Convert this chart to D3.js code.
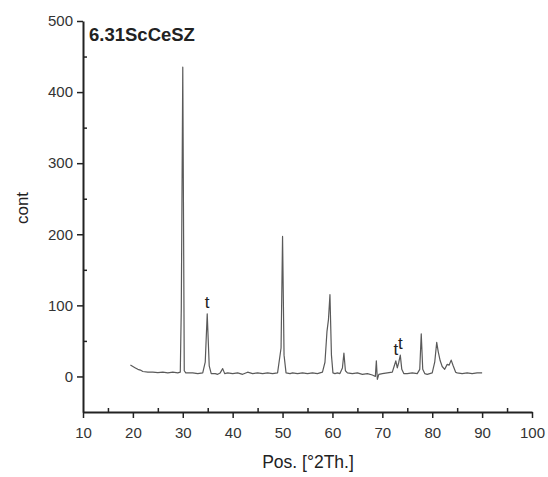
<!DOCTYPE html>
<html>
<head>
<meta charset="utf-8">
<script src="https://cdn.jsdelivr.net/npm/d3@7"></script>
<style>
  body { margin: 0; background: #fff; }
  svg { font-family: "Liberation Sans", Arial, sans-serif; }
</style>
</head>
<body>
<svg id="chart" width="548" height="477"></svg>
<script>
// diffraction pattern (2theta, counts)
const pos = [19.5, 20, 20.5, 21, 21.5, 22, 23, 24, 25, 26, 27, 28, 29, 29.5, 29.7, 30.0, 30.3, 30.6, 31, 32, 33, 34,
  34.5, 34.9, 35.3, 35.7, 36.5, 37, 37.5, 38, 38.4, 39, 40, 41, 42, 43, 44, 45, 46, 47, 48, 49,
  49.7, 50.0, 50.3, 50.7, 51.5, 52, 53, 54, 55, 56, 57, 58, 58.5, 58.9, 59.2, 59.5, 59.8, 60.1, 60.5, 61, 61.5,
  62, 62.3, 62.6, 63, 64, 65, 66, 67, 68, 68.6, 68.8, 69, 69.3, 70, 71, 72, 72.4, 72.7, 73.0, 73.3, 73.6, 73.9,
  74.3, 75, 76, 77, 77.5, 77.8, 78.1, 78.5, 79, 80, 80.5, 80.9, 81.2, 81.6, 82, 82.5, 83, 83.4, 83.8, 84.2, 84.7,
  85, 86, 87, 88, 89, 90];
const cont = [16, 14, 12, 10, 9, 7, 6, 6, 5.5, 6, 5, 6, 5, 6, 95, 435, 8, 5, 5, 5, 4, 5,
  20, 88, 15, 4, 4, 3, 5, 11, 4, 5, 4, 5, 3, 6, 4, 5, 4, 5, 4, 5,
  40, 197, 30, 5, 4, 5, 4, 5, 4, 5, 4, 6, 20, 63, 80, 115, 30, 5, 4, 5, 4,
  12, 33, 8, 5, 4, 5, 3, 4, 2, 0, 22, -4, 3, 4, 5, 6, 15, 22, 12, 20, 30, 10,
  4, 4, 5, 4, 10, 60, 10, 4, 3, 5, 20, 48, 35, 22, 14, 10, 17, 16, 23, 15, 6,
  5, 4, 5, 4, 5, 5];

// tetragonal reflections marked "t"
const tPos = [34.9, 72.7, 73.6];
const tCont = [88, 22, 30];

const xTicks = [10, 20, 30, 40, 50, 60, 70, 80, 90, 100];
const yTicks = [0, 100, 200, 300, 400, 500];
const sampleName = "6.31ScCeSZ";

const svg = d3.select("#chart");
const margin = { top: 21, right: 16, bottom: 65, left: 83 };
const width = 548 - margin.left - margin.right;
const height = 477 - margin.top - margin.bottom;

const g = svg.append("g")
  .attr("transform", `translate(${margin.left},${margin.top})`);

const x = d3.scaleLinear().domain([10, 100]).range([0, width]);
const y = d3.scaleLinear().domain([-50, 500]).range([height, 0]);

//minor ticks first, pointing inward
g.append("g")
  .attr("transform", `translate(0,${height})`)
  .call(d3.axisBottom(x).tickValues(d3.range(15, 100, 10)).tickSize(-4).tickFormat(""))
  .call(a => a.select(".domain").remove())
  .selectAll("line").attr("stroke", "#222").attr("stroke-width", 1.5);

g.append("g")
  .call(d3.axisLeft(y).tickValues(d3.range(50, 500, 100)).tickSize(-4).tickFormat(""))
  .call(a => a.select(".domain").remove())
  .selectAll("line").attr("stroke", "#222").attr("stroke-width", 1.5);

//major axes
const xAxis = g.append("g")
  .attr("transform", `translate(0,${height})`)
  .call(d3.axisBottom(x).tickValues(xTicks).tickSize(6).tickSizeOuter(0).tickPadding(9));

const yAxis = g.append("g")
  .call(d3.axisLeft(y).tickValues(yTicks).tickSize(6).tickSizeOuter(0).tickPadding(4));

[xAxis, yAxis].forEach(a => {
  a.select(".domain").attr("stroke", "#222").attr("stroke-width", 2);
  a.selectAll(".tick line").attr("stroke", "#222").attr("stroke-width", 1.5);
  a.selectAll("text")
    .attr("fill", "#333")
    .style("font-size", "15px")
    .style("font-family", "Liberation Sans, Arial, sans-serif");
});

//pattern
const line = d3.line()
  .x((d, i) => x(pos[i]))
  .y(d => y(d));

g.append("path")
  .datum(cont)
  .attr("fill", "none")
  .attr("stroke", "#5a5a5a")
  .attr("stroke-width", 1.2)
  .attr("stroke-linejoin", "round")
  .attr("d", line);

//t labels
g.selectAll(".tlabel")
  .data(tPos)
  .enter()
  .append("text")
  .attr("class", "tlabel")
  .attr("x", d => x(d))
  .attr("y", (d, i) => y(tCont[i]) - 6)
  .attr("text-anchor", "middle")
  .attr("fill", "#222")
  .style("font-size", "17px")
  .text("t");

//sample name
g.append("text")
  .attr("x", 6)
  .attr("y", 20)
  .attr("fill", "#222")
  .style("font-size", "18.5px")
  .style("font-weight", "bold")
  .text(sampleName);

//axis titles
svg.append("text")
  .attr("x", 308)
  .attr("y", 468)
  .attr("text-anchor", "middle")
  .attr("fill", "#222")
  .style("font-size", "17.5px")
  .text("Pos. [°2Th.]");

svg.append("text")
  .attr("transform", "rotate(-90)")
  .attr("x", -208)
  .attr("y", 28)
  .attr("text-anchor", "middle")
  .attr("fill", "#222")
  .style("font-size", "17px")
  .text("cont");
</script>
</body>
</html>
